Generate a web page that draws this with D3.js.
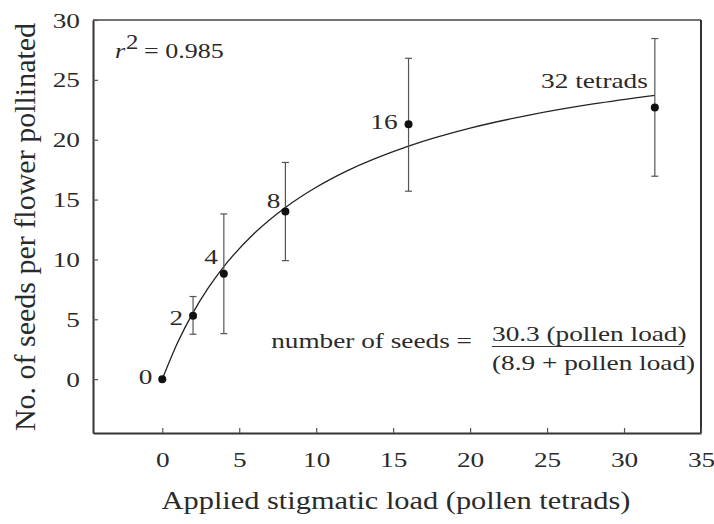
<!DOCTYPE html>
<html>
<head>
<meta charset="utf-8">
<script src="https://cdn.jsdelivr.net/npm/d3@7"></script>
<style>
  body { margin: 0; background: #fff; }
  svg { display: block; }
  text { font-family: "Liberation Serif", "Times New Roman", serif; fill: #2a2a2a; }
</style>
</head>
<body>
<svg id="chart" width="714" height="524"></svg>
<script>
// pollen load (tetrads) and mean seeds per flower
var loads = [0, 2, 4, 8, 16, 32];
var seeds = [0, 5.3, 8.8, 14.0, 21.3, 22.7];
var errLow = [0, 3.75, 3.8, 9.9, 15.7, 16.95];
var errHigh = [0, 6.9, 13.8, 18.1, 26.8, 28.45];
var pointLabels = ["0", "2", "4", "8", "16", "32 tetrads"];

// fitted curve
var curveX = [0, 1, 2, 3, 4, 6, 8, 10, 12, 16, 20, 24, 28, 32];
var curveY = [0, 3.06, 5.56, 7.64, 9.40, 12.20, 14.34, 16.03, 17.40, 19.47, 20.97, 22.10, 22.99, 23.71];

var xTicks = [0, 5, 10, 15, 20, 25, 30, 35];
var yTicks = [0, 5, 10, 15, 20, 25, 30];

// the original figure is a bit wider than tall, so the text is stretched too
var stretch = 1.24;

var svg = d3.select("#chart");
var margin = {top: 20, right: 13, bottom: 91, left: 93},
    width = 714 - margin.left - margin.right,
    height = 524 - margin.top - margin.bottom;

var g = svg.append("g")
  .attr("transform", "translate(" + margin.left + "," + margin.top + ")");

var x = d3.scaleLinear().domain([-4.5, 35]).range([0, width]);
var y = d3.scaleLinear().domain([-4.5, 30]).range([height, 0]);

function label(parent, px, py, size, anchor) {
  return parent.append("g")
    .attr("transform", "translate(" + px + "," + py + ") scale(" + stretch + ",1)")
    .append("text")
    .attr("font-size", size)
    .attr("text-anchor", anchor || "start");
}

// frame
g.append("line").attr("x1", 0).attr("x2", width).attr("y1", 0).attr("y2", 0)
  .attr("stroke", "#444").attr("stroke-width", 1.5);
g.append("line").attr("x1", width).attr("x2", width).attr("y1", 0).attr("y2", height)
  .attr("stroke", "#333").attr("stroke-width", 2);

var xAxis = d3.axisBottom(x).tickValues(xTicks).tickSizeInner(-5).tickSizeOuter(0)
  .tickPadding(18).tickFormat(d3.format("d"));
var yAxis = d3.axisLeft(y).tickValues(yTicks).tickSizeInner(-5).tickSizeOuter(0)
  .tickPadding(10.5).tickFormat(d3.format("d"));

var gx = g.append("g").attr("transform", "translate(0," + height + ")").call(xAxis);
var gy = g.append("g").call(yAxis);

[gx, gy].forEach(function(a) {
  a.select(".domain").attr("stroke", "#333").attr("stroke-width", 2);
  a.selectAll(".tick line").attr("stroke", "#555").attr("stroke-width", 1.2);
  a.selectAll(".tick text").attr("font-size", 22)
    .attr("font-family", "Liberation Serif").attr("fill", "#2a2a2a")
    .attr("transform", "scale(" + stretch + ",1)");
});
gx.selectAll(".tick text").attr("dy", "0.71em");

// axis titles
label(svg, 396, 509, 24.5, "middle")
  .text("Applied stigmatic load (pollen tetrads)");

svg.append("text")
  .attr("transform", "translate(35,227) rotate(-90)")
  .attr("text-anchor", "middle")
  .attr("font-size", 30)
  .text("No. of seeds per flower pollinated");

// curve
var line = d3.line()
  .x(function(d, i) { return x(curveX[i]); })
  .y(function(d, i) { return y(curveY[i]); })
  .curve(d3.curveMonotoneX);

g.append("path")
  .datum(curveX)
  .attr("d", line)
  .attr("fill", "none")
  .attr("stroke", "#222")
  .attr("stroke-width", 1.3);

// error bars
var bars = g.selectAll(".err")
  .data(loads.slice(1))
  .enter().append("g")
  .attr("class", "err");

bars.each(function(d, i) {
  var k = i + 1, bg = d3.select(this), cx = x(d);
  bg.append("line").attr("x1", cx).attr("x2", cx)
    .attr("y1", y(errLow[k])).attr("y2", y(errHigh[k]));
  bg.append("line").attr("x1", cx - 3.5).attr("x2", cx + 3.5)
    .attr("y1", y(errLow[k])).attr("y2", y(errLow[k]));
  bg.append("line").attr("x1", cx - 3.5).attr("x2", cx + 3.5)
    .attr("y1", y(errHigh[k])).attr("y2", y(errHigh[k]));
});
bars.selectAll("line").attr("stroke", "#555").attr("stroke-width", 1.2);

// points
g.selectAll(".pt")
  .data(loads)
  .enter().append("circle")
  .attr("class", "pt")
  .attr("cx", function(d) { return x(d); })
  .attr("cy", function(d, i) { return y(seeds[i]); })
  .attr("r", 4)
  .attr("fill", "#111");

// point labels (offsets in px / data units from each point)
var labelPos = [
  {dx: -10, dy: 0.25},
  {dx: -10, dy: -0.1},
  {dx: -6, dy: 1.45},
  {dx: -5, dy: 0.9},
  {dx: -11, dy: 0.2},
  {dx: -7, dy: 2.3}
];
pointLabels.forEach(function(t, i) {
  label(g, x(loads[i]) + labelPos[i].dx, y(seeds[i] + labelPos[i].dy), 22, "end")
    .attr("dy", "0.35em")
    .text(t);
});

// r squared
label(svg, 115, 58, 21).append("tspan").attr("font-style", "italic").text("r");
label(svg, 126, 49, 20).text("2");
label(svg, 144, 58, 21).text("= 0.985");

// equation
label(svg, 472, 348, 22, "end").text("number of seeds =");
label(svg, 492, 341, 22).text("30.3 (pollen load)");
svg.append("line").attr("x1", 492).attr("x2", 684)
  .attr("y1", 346.5).attr("y2", 346.5)
  .attr("stroke", "#333").attr("stroke-width", 1.2);
label(svg, 492, 370, 22).text("(8.9 + pollen load)");
</script>
</body>
</html>
